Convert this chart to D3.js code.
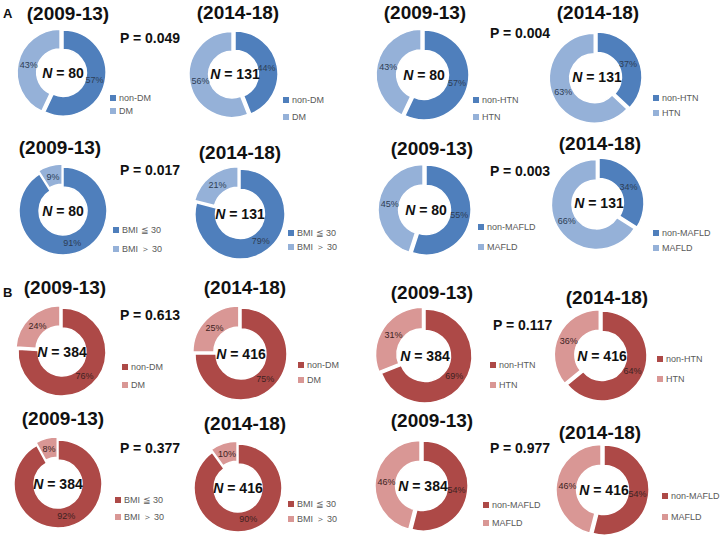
<!DOCTYPE html>
<html>
<head>
<meta charset="utf-8">
<script src="https://cdn.jsdelivr.net/npm/d3@7"></script>
<style>
  html, body { margin: 0; padding: 0; background: #fff; }
  svg { display: block; }
</style>
</head>
<body>
<svg id="chart" width="721" height="554"></svg>
<script>
// ---------------- DATA ----------------
const panelLabels = ["A", "B"];
const periods = ["(2009-13)", "(2014-18)"];
const sampleSizesA = [80, 131];
const sampleSizesB = [384, 416];
const variables = ["DM", "HTN", "BMI", "MAFLD"];
const categoryLabels = [
  ["non-DM", "DM"],
  ["non-HTN", "HTN"],
  ["BMI \u2266 30", "BMI \uFF1E 30"],
  ["non-MAFLD", "MAFLD"]
];
// percentages [first category, second category] for 2009-13 and 2014-18
const valuesA_2009 = [[57, 43], [57, 43], [91, 9], [55, 45]];
const valuesA_2014 = [[44, 56], [37, 63], [79, 21], [34, 66]];
const valuesB_2009 = [[76, 24], [69, 31], [92, 8], [54, 46]];
const valuesB_2014 = [[75, 25], [64, 36], [90, 10], [54, 46]];
const pValuesA = ["0.049", "0.004", "0.017", "0.003"];
const pValuesB = ["0.613", "0.117", "0.377", "0.977"];

// ---------------- STYLE / LAYOUT ----------------
const colorsA = ["#4f7fbc", "#95b1d8"];
const colorsB = ["#ad4947", "#d99795"];
const labelColorA = "#2d3d55";
const labelColorB = "#3d2222";
const font = "'Liberation Sans', Arial, sans-serif";

// layout for each donut: centre, radius, title centre, legend position
// order: panel A vars (DM, HTN, BMI, MAFLD) then panel B vars, each [2009, 2014]
const donutLayout = [
  [{cx:63, cy:73, r:45, tx:68, ty:13, lx:110, ly:[98,111]},  {cx:235, cy:74, r:45, tx:238, ty:12, lx:283, ly:[100,117]}],
  [{cx:424, cy:75, r:47, tx:425, ty:12, lx:473, ly:[100,117]}, {cx:597, cy:77, r:47, tx:598, ty:12, lx:653, ly:[98,113]}],
  [{cx:63, cy:211, r:46, tx:60, ty:147, lx:113, ly:[230,249]}, {cx:240, cy:214, r:47, tx:240, ty:152, lx:288, ly:[233,247]}],
  [{cx:426, cy:210, r:47, tx:432, ty:148, lx:478, ly:[227,247]}, {cx:599, cy:203, r:47, tx:600, ty:143, lx:653, ly:[233,248]}],
  [{cx:62, cy:352, r:46, tx:65, ty:287, lx:122, ly:[367,385]}, {cx:241, cy:354, r:48, tx:245, ty:287, lx:298, ly:[365,380]}],
  [{cx:425, cy:356, r:49, tx:432, ty:292, lx:490, ly:[365,385]}, {cx:602, cy:356, r:47, tx:607, ty:297, lx:657, ly:[359,379]}],
  [{cx:58, cy:484, r:46, tx:63, ty:418, lx:115, ly:[500,517]}, {cx:238, cy:488, r:46, tx:245, ty:423, lx:288, ly:[504,519]}],
  [{cx:423, cy:486, r:47, tx:432, ty:420, lx:483, ly:[505,523]}, {cx:604, cy:490, r:47, tx:600, ty:432, lx:662, ly:[496,517]}]
];
const pLayout = [
  {x:120, y:38}, {x:490, y:33}, {x:120, y:170}, {x:490, y:171},
  {x:120, y:315}, {x:493, y:325}, {x:120, y:448}, {x:490, y:448}
];
const panelLabelLayout = [{x:3, y:13}, {x:3, y:292}];

// ---------------- DRAW ----------------
const svg = d3.select("#chart");
svg.append("rect").attr("width", 721).attr("height", 554).attr("fill", "#fff");

const pie = d3.pie().sort(null).value(d => d);

panelLabels.forEach((pl, i) => {
  svg.append("text")
    .attr("x", panelLabelLayout[i].x).attr("y", panelLabelLayout[i].y)
    .attr("dy", "0.35em")
    .attr("font-family", font).attr("font-weight", "bold").attr("font-size", 13)
    .attr("fill", "#111").text(pl);
});

const panels = [
  {vals: [valuesA_2009, valuesA_2014], n: sampleSizesA, p: pValuesA, colors: colorsA, lc: labelColorA},
  {vals: [valuesB_2009, valuesB_2014], n: sampleSizesB, p: pValuesB, colors: colorsB, lc: labelColorB}
];

panels.forEach((panel, pi) => {
  variables.forEach((v, vi) => {
    const gi = pi * 4 + vi;
    // P value
    svg.append("text")
      .attr("x", pLayout[gi].x).attr("y", pLayout[gi].y).attr("dy", "0.35em")
      .attr("font-family", font).attr("font-weight", "bold").attr("font-size", 14)
      .attr("fill", "#111").text("P = " + panel.p[vi]);

    periods.forEach((period, ti) => {
      const L = donutLayout[gi][ti];
      const data = panel.vals[ti][vi];
      const g = svg.append("g").attr("transform", `translate(${L.cx},${L.cy})`);
      const rOuter = L.r - 2;
      const rInner = L.r * 0.52;
      const arc = d3.arc().innerRadius(rInner).outerRadius(rOuter);
      const labelArc = d3.arc().innerRadius((rInner + rOuter) / 2 - 1).outerRadius((rInner + rOuter) / 2 - 1);
      const arcs = pie(data);

      arcs.forEach((a, k) => {
        const mid = (a.startAngle + a.endAngle) / 2;
        const off = k === 1 ? 3 : 0;
        const dx = Math.sin(mid) * off, dy = -Math.cos(mid) * off;
        const sg = g.append("g").attr("transform", `translate(${dx},${dy})`);
        sg.append("path").attr("d", arc(a))
          .attr("fill", panel.colors[k])
          .attr("stroke", "#fff").attr("stroke-width", 1.5);
        const c = labelArc.centroid(a);
        sg.append("text")
          .attr("x", c[0]).attr("y", c[1]).attr("dy", "0.35em")
          .attr("text-anchor", "middle")
          .attr("font-family", font).attr("font-size", 9)
          .attr("fill", panel.lc).text(a.data + "%");
      });

      // N label
      const nt = g.append("text").attr("x", 0).attr("y", 0).attr("dy", "0.35em")
        .attr("text-anchor", "middle")
        .attr("font-family", font).attr("font-weight", "bold").attr("font-size", 14)
        .attr("fill", "#111");
      nt.append("tspan").attr("font-style", "italic").text("N");
      nt.append("tspan").text(" = " + panel.n[ti]);

      // title
      svg.append("text")
        .attr("x", L.tx).attr("y", L.ty).attr("dy", "0.35em")
        .attr("text-anchor", "middle")
        .attr("font-family", font).attr("font-weight", "bold").attr("font-size", 19)
        .attr("fill", "#111").text(period);

      // legend
      categoryLabels[vi].forEach((lab, k) => {
        const y = L.ly[k];
        svg.append("rect")
          .attr("x", L.lx).attr("y", y - 3).attr("width", 6).attr("height", 6)
          .attr("fill", panel.colors[k]);
        svg.append("text")
          .attr("x", L.lx + 9).attr("y", y).attr("dy", "0.35em")
          .attr("font-family", font).attr("font-size", 9)
          .attr("fill", "#595959").text(lab);
      });
    });
  });
});
</script>
</body>
</html>
